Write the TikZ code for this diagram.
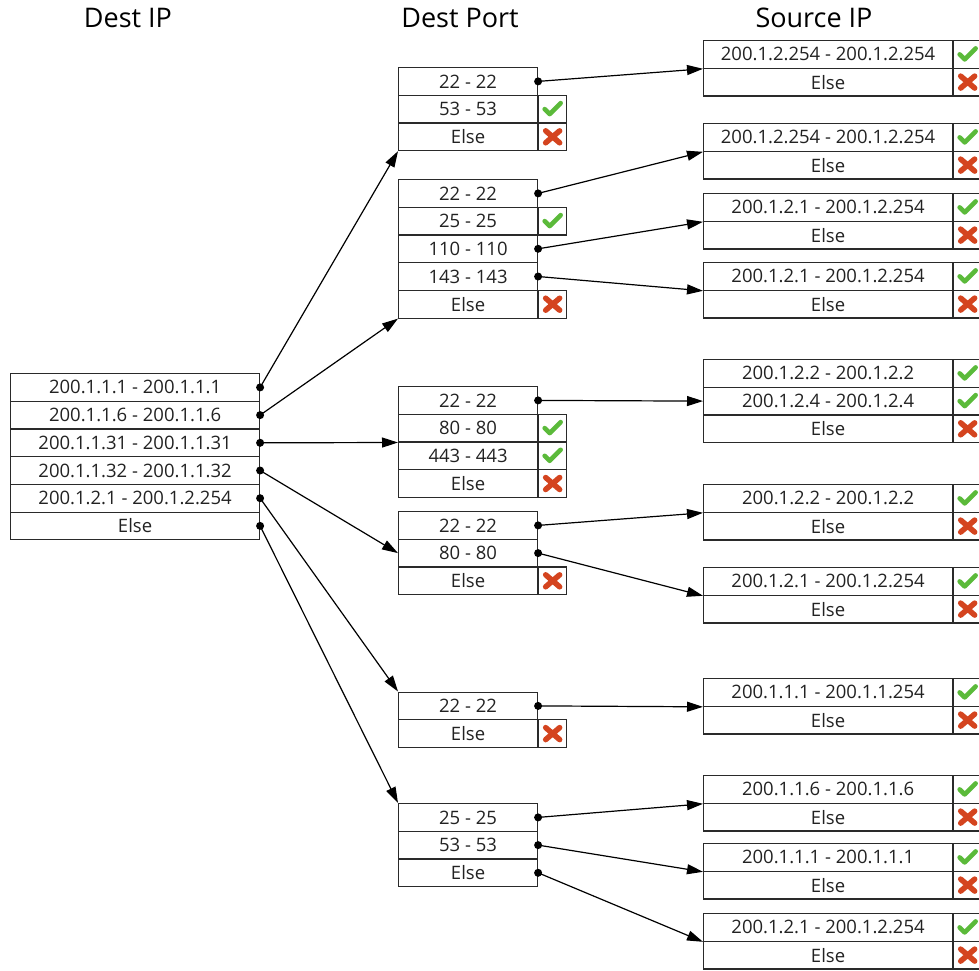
\documentclass[tikz,border=0pt]{standalone}
\usepackage{fontspec}
\setmainfont{Open Sans}
\usetikzlibrary{arrows.meta}
\definecolor{okgreen}{HTML}{5BBA3A}
\definecolor{nored}{HTML}{D4441F}
\definecolor{inkline}{HTML}{2A2A2A}
\definecolor{inktext}{HTML}{222222}
\tikzset{
  cellbox/.style={draw=inkline, line width=1.1pt, inner sep=0pt,
    minimum height=27.7pt, text=inktext,
    font=\fontsize{18.5}{22}\selectfont},
  markbox/.style={draw=inkline, line width=1.1pt, inner sep=0pt,
    minimum height=27.7pt, minimum width=28pt},
  header/.style={text=black, font=\fontsize{27}{32}\selectfont},
  conn/.style={black, line width=1.2pt,
    -{Triangle[length=16pt, width=10pt]}},
  pics/okmark/.style={code={
    \draw[okgreen, line width=4.6pt, line cap=round, line join=round]
      (-8,0) -- (-3,5) -- (8,-6);}},
  pics/nomark/.style={code={
    \draw[nored, line width=5.5pt, line cap=round]
      (-7,-6) -- (7,6) (-7,6) -- (7,-6);}},
}
% one row of a rule table: name, left x, top y, width, text
\newcommand\mkrow[5]{%
  \node[cellbox, minimum width=#4pt, anchor=north west] (#1) at (#2,#3) {#5};}
% verdict cell to the right of a row: row name, ok/no
\newcommand\mkverdict[2]{%
  \node[markbox, anchor=west] (#1m) at (#1.east) {};
  \pic at (#1m) {#2mark};}
% link from one row to a target anchor, with a dot at its start
\newcommand\mklink[2]{%
  \draw[conn] (#1.east) -- (#2);
  \fill[black] (#1.east) circle[radius=4pt];}

\begin{document}
\begin{tikzpicture}[x=1pt, y=-1pt]
\useasboundingbox (0,0) rectangle (979,970);

% column headings
\node[header] (hdip) at (128,18) {Dest IP};
\node[header] (hdport) at (460,18) {Dest Port};
\node[header] (hsrc) at (814,18) {Source IP};

% destination IP table
\mkrow{d1}{10}{373}{249}{200.1.1.1 - 200.1.1.1}
\mkrow{d2}{10}{400.7}{249}{200.1.1.6 - 200.1.1.6}
\mkrow{d3}{10}{428.4}{249}{200.1.1.31 - 200.1.1.31}
\mkrow{d4}{10}{456.1}{249}{200.1.1.32 - 200.1.1.32}
\mkrow{d5}{10}{483.8}{249}{200.1.2.1 - 200.1.2.254}
\mkrow{d6}{10}{511.5}{249}{Else}

% destination port tables
\mkrow{a1}{398}{67}{139}{22 - 22}
\mkrow{a2}{398}{94.7}{139}{53 - 53}\mkverdict{a2}{ok}
\mkrow{a3}{398}{122.4}{139}{Else}\mkverdict{a3}{no}

\mkrow{b1}{398}{179}{139}{22 - 22}
\mkrow{b2}{398}{206.7}{139}{25 - 25}\mkverdict{b2}{ok}
\mkrow{b3}{398}{234.4}{139}{110 - 110}
\mkrow{b4}{398}{262.1}{139}{143 - 143}
\mkrow{b5}{398}{289.8}{139}{Else}\mkverdict{b5}{no}

\mkrow{c1}{398}{386}{139}{22 - 22}
\mkrow{c2}{398}{413.7}{139}{80 - 80}\mkverdict{c2}{ok}
\mkrow{c3}{398}{441.4}{139}{443 - 443}\mkverdict{c3}{ok}
\mkrow{c4}{398}{469.1}{139}{Else}\mkverdict{c4}{no}

\mkrow{e1}{398}{511}{139}{22 - 22}
\mkrow{e2}{398}{538.7}{139}{80 - 80}
\mkrow{e3}{398}{566.4}{139}{Else}\mkverdict{e3}{no}

\mkrow{f1}{398}{691.5}{139}{22 - 22}
\mkrow{f2}{398}{719.2}{139}{Else}\mkverdict{f2}{no}

\mkrow{g1}{398}{803}{139}{25 - 25}
\mkrow{g2}{398}{830.7}{139}{53 - 53}
\mkrow{g3}{398}{858.4}{139}{Else}

% source IP tables
\mkrow{s1a}{703}{40}{249}{200.1.2.254 - 200.1.2.254}\mkverdict{s1a}{ok}
\mkrow{s1b}{703}{67.7}{249}{Else}\mkverdict{s1b}{no}

\mkrow{s2a}{703}{123}{249}{200.1.2.254 - 200.1.2.254}\mkverdict{s2a}{ok}
\mkrow{s2b}{703}{150.7}{249}{Else}\mkverdict{s2b}{no}

\mkrow{s3a}{703}{193}{249}{200.1.2.1 - 200.1.2.254}\mkverdict{s3a}{ok}
\mkrow{s3b}{703}{220.7}{249}{Else}\mkverdict{s3b}{no}

\mkrow{s4a}{703}{262}{249}{200.1.2.1 - 200.1.2.254}\mkverdict{s4a}{ok}
\mkrow{s4b}{703}{289.7}{249}{Else}\mkverdict{s4b}{no}

\mkrow{s5a}{703}{359}{249}{200.1.2.2 - 200.1.2.2}\mkverdict{s5a}{ok}
\mkrow{s5b}{703}{386.7}{249}{200.1.2.4 - 200.1.2.4}\mkverdict{s5b}{ok}
\mkrow{s5c}{703}{414.4}{249}{Else}\mkverdict{s5c}{no}

\mkrow{s6a}{703}{484}{249}{200.1.2.2 - 200.1.2.2}\mkverdict{s6a}{ok}
\mkrow{s6b}{703}{511.7}{249}{Else}\mkverdict{s6b}{no}

\mkrow{s7a}{703}{567}{249}{200.1.2.1 - 200.1.2.254}\mkverdict{s7a}{ok}
\mkrow{s7b}{703}{594.7}{249}{Else}\mkverdict{s7b}{no}

\mkrow{s8a}{703}{678}{249}{200.1.1.1 - 200.1.1.254}\mkverdict{s8a}{ok}
\mkrow{s8b}{703}{705.7}{249}{Else}\mkverdict{s8b}{no}

\mkrow{s9a}{703}{775}{249}{200.1.1.6 - 200.1.1.6}\mkverdict{s9a}{ok}
\mkrow{s9b}{703}{802.7}{249}{Else}\mkverdict{s9b}{no}

\mkrow{s10a}{703}{843}{249}{200.1.1.1 - 200.1.1.1}\mkverdict{s10a}{ok}
\mkrow{s10b}{703}{870.7}{249}{Else}\mkverdict{s10b}{no}

\mkrow{s11a}{703}{913}{249}{200.1.2.1 - 200.1.2.254}\mkverdict{s11a}{ok}
\mkrow{s11b}{703}{940.7}{249}{Else}\mkverdict{s11b}{no}

% destination IP -> destination port
\mklink{d1}{a3.south west}
\mklink{d2}{b5.south west}
\mklink{d3}{c2.south west}
\mklink{d4}{e2.west}
\mklink{d5}{f1.north west}
\mklink{d6}{g1.north west}

% destination port -> source IP
\mklink{a1}{s1a.south west}
\mklink{b1}{s2a.south west}
\mklink{b3}{s3a.south west}
\mklink{b4}{s4a.south west}
\mklink{c1}{s5b.west}
\mklink{e1}{s6a.south west}
\mklink{e2}{s7a.south west}
\mklink{f1}{s8a.south west}
\mklink{g1}{s9a.south west}
\mklink{g2}{s10a.south west}
\mklink{g3}{s11a.south west}
\end{tikzpicture}
\end{document}
